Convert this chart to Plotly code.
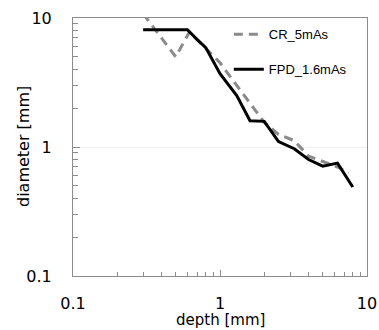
import plotly.graph_objects as go

# FPD_1.6mAs series
fpd_depth = [0.3, 0.6, 0.7, 0.8, 1.0, 1.3, 1.6, 2.0, 2.5, 3.2, 4.0, 5.0, 6.3, 8.0]
fpd_diam = [8.1, 8.1, 6.8, 5.9, 3.7, 2.5, 1.6, 1.58, 1.1, 0.97, 0.8, 0.71, 0.75, 0.49]

# CR_5mAs series
cr_depth = [0.3, 0.5, 0.62, 0.8, 1.0, 1.3, 2.0, 2.5, 3.2, 4.0, 5.0, 6.3, 7.5]
cr_diam = [10.8, 5.0, 7.8, 5.8, 4.5, 3.0, 1.55, 1.25, 1.12, 0.85, 0.77, 0.70, 0.63]

x_ticks = [0.1, 1, 10]
x_ticklabels = ["0.1", "1", "10"]
y_ticks = [0.1, 1, 10]
y_ticklabels = ["0.1", "1", "10"]
minor_ticks = [0.2, 0.3, 0.4, 0.5, 0.6, 0.7, 0.8, 0.9, 2, 3, 4, 5, 6, 7, 8, 9]

axis_gray = "#8c8c8c"

fig = go.Figure()
fig.add_trace(go.Scatter(
    x=cr_depth, y=cr_diam, mode="lines", name="CR_5mAs",
    line=dict(color="#8a8a8a", width=3, dash="9px,6px"),
    legendgroup="a",
))
fig.add_trace(go.Scatter(
    x=fpd_depth, y=fpd_diam, mode="lines", name="FPD_1.6mAs",
    line=dict(color="#000000", width=3),
    legendgroup="b",
))

fig.update_layout(
    width=379, height=330,
    margin=dict(l=73, r=12, t=18, b=54, autoexpand=False),
    paper_bgcolor="white", plot_bgcolor="white",
    font=dict(family="DejaVu Sans", size=16, color="#000000"),
    showlegend=True,
    legend=dict(
        x=0.53, y=0.995, xanchor="left", yanchor="top",
        bgcolor="rgba(0,0,0,0)",
        font=dict(family="Liberation Sans", size=13, color="#000"),
        tracegroupgap=15, itemwidth=30,
    ),
)

fig.update_xaxes(
    type="log", range=[-1, 1], automargin=False,
    tickvals=x_ticks, ticktext=x_ticklabels,
    ticks="inside", ticklen=6, tickcolor=axis_gray, tickwidth=1,
    showline=True, linecolor=axis_gray, linewidth=1, mirror=True,
    showgrid=False, zeroline=False,
    ticklabelstandoff=13,
    minor=dict(ticks="inside", ticklen=4, tickcolor=axis_gray, showgrid=False,
               tickvals=minor_ticks),
    tickfont=dict(family="DejaVu Sans", size=16),
)
fig.update_yaxes(
    type="log", range=[-1, 1], automargin=False,
    tickvals=y_ticks, ticktext=y_ticklabels,
    ticks="inside", ticklen=7, tickcolor=axis_gray, tickwidth=1,
    showline=True, linecolor=axis_gray, linewidth=1, mirror=True,
    showgrid=True, gridcolor="#efefef", gridwidth=1, zeroline=False,
    ticklabelstandoff=17,
    minor=dict(ticks="inside", ticklen=5, tickcolor=axis_gray, showgrid=False,
               tickvals=minor_ticks),
    tickfont=dict(family="DejaVu Sans", size=16),
)

fig.add_annotation(
    text="diameter [mm]", xref="paper", yref="paper",
    x=-0.17, y=0.5, xanchor="center", yanchor="middle",
    textangle=-90, showarrow=False,
    font=dict(family="DejaVu Sans", size=16, color="#000"),
)
fig.add_annotation(
    text="depth [mm]", xref="paper", yref="paper",
    x=0.5, y=0.0, yshift=-44, xanchor="center", yanchor="middle",
    showarrow=False, borderpad=0,
    font=dict(family="DejaVu Sans", size=15, color="#000"),
)

fig.write_html(
    "out.html",
    config={"displayModeBar": False},
    post_script="document.body.style.margin='0px';document.body.style.padding='0px';",
)
